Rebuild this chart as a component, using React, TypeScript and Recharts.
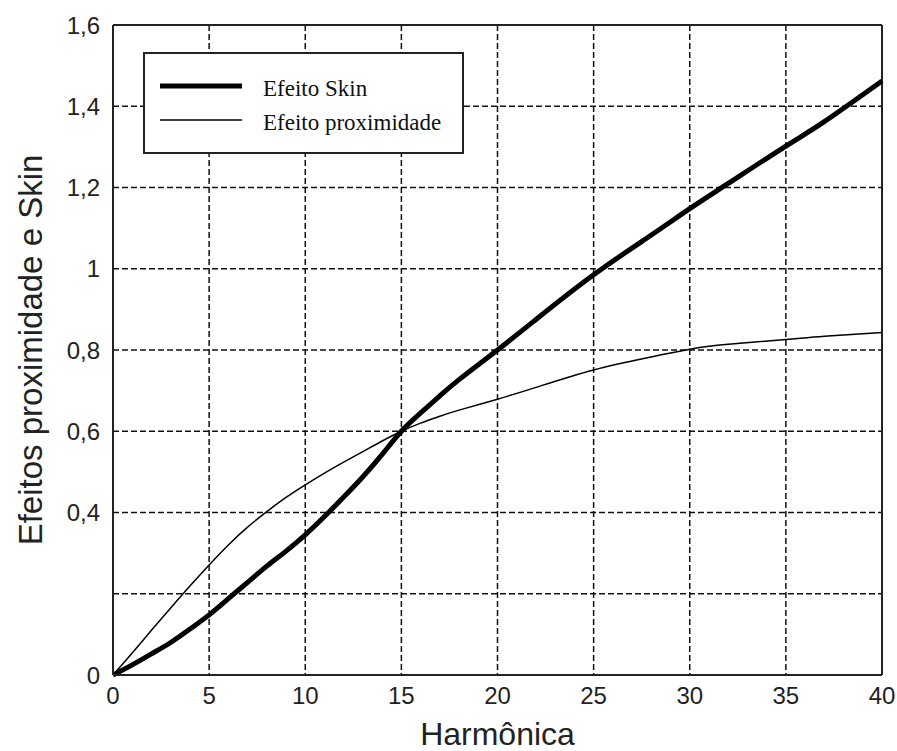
import { CartesianGrid, Legend, Line, LineChart, ReferenceLine, XAxis, YAxis } from "recharts";

document.body.style.margin = "0";

const harmonics = [0, 1, 2, 3, 4, 5, 6, 7, 8, 9, 10, 11, 12, 13, 14, 15, 16, 17, 18, 20, 22, 25, 28, 30, 32, 35, 37, 40];
const skin = [
  0, 0.025, 0.052, 0.08, 0.113, 0.148, 0.188, 0.228, 0.268, 0.305, 0.345, 0.39, 0.438, 0.488, 0.543, 0.6, 0.645, 0.687,
  0.727, 0.8, 0.875, 0.985, 1.083, 1.148, 1.21, 1.302, 1.362, 1.462
];
const proximity = [
  0, 0.054, 0.11, 0.165, 0.219, 0.271, 0.32, 0.364, 0.402, 0.437, 0.468, 0.497, 0.524, 0.55, 0.576, 0.6, 0.62, 0.637,
  0.652, 0.679, 0.708, 0.751, 0.783, 0.802, 0.814, 0.826, 0.834, 0.843
];

const xTicks = [0, 5, 10, 15, 20, 25, 30, 35, 40];
const yTicks = [0, 0.2, 0.4, 0.6, 0.8, 1, 1.2, 1.4, 1.6];
const yTickLabels = ["0", "", "0,4", "0,6", "0,8", "1", "1,2", "1,4", "1,6"];

const data = harmonics.map((h, i) => ({ h, skin: skin[i], prox: proximity[i] }));

const ink = "#111";
const sans = "'Liberation Sans', Arial, sans-serif";
const tickStyle = { fill: "#222", fontSize: 24, fontFamily: sans };

function LegendBox({ payload }: any) {
  const items = payload ?? [];
  return (
    <svg width={321} height={102} style={{ display: "block" }}>
      <rect x={1} y={1} width={319} height={100} fill="#fff" stroke="#222" strokeWidth={2} />
      {items.map((it: any, i: number) => {
        const y = 34 + i * 34;
        return (
          <g key={it.value}>
            <line x1={17} x2={99} y1={y} y2={y} stroke="#000" strokeWidth={i === 0 ? 5 : 1.5} />
            <text x={120} y={y + 10} fontSize={23} fontFamily="'Liberation Serif', 'Times New Roman', serif" fill="#111">
              {it.value}
            </text>
          </g>
        );
      })}
    </svg>
  );
}

export default function App() {
  return (
    <div style={{ width: 897, height: 751, background: "#fff" }}>
      <LineChart width={897} height={751} data={data} margin={{ top: 25, right: 15, bottom: 0, left: 0 }}>
        <CartesianGrid stroke={ink} strokeWidth={1.5} strokeDasharray="6 3" />
        <XAxis
          dataKey="h"
          type="number"
          domain={[0, 40]}
          ticks={xTicks}
          interval={0}
          height={76}
          tickSize={0}
          tickMargin={12}
          tick={tickStyle}
          axisLine={{ stroke: "#222", strokeWidth: 2 }}
          label={{
            value: "Harmônica",
            position: "insideBottom",
            offset: 6,
            fontSize: 32,
            fill: "#222",
            fontFamily: sans
          }}
        />
        <YAxis
          type="number"
          domain={[0, 1.6]}
          ticks={yTicks}
          interval={0}
          width={113}
          tickSize={0}
          tickMargin={13}
          tick={tickStyle}
          tickFormatter={(v: number) => yTickLabels[yTicks.indexOf(v)] ?? ""}
          axisLine={{ stroke: "#222", strokeWidth: 2 }}
          label={{
            value: "Efeitos proximidade e Skin",
            angle: -90,
            position: "insideLeft",
            offset: 30,
            fontSize: 33,
            fill: "#222",
            fontFamily: sans,
            style: { textAnchor: "middle" }
          }}
        />
        <ReferenceLine x={40} stroke="#222" strokeWidth={2} />
        <ReferenceLine y={1.6} stroke="#222" strokeWidth={2} />
        <Legend
          layout="vertical"
          align="center"
          verticalAlign="middle"
          content={<LegendBox />}
          wrapperStyle={{ left: 143, top: 52, width: 321, height: 102 }}
        />
        <Line
          type="natural"
          dataKey="skin"
          name="Efeito Skin"
          stroke="#000"
          strokeWidth={5}
          dot={false}
          isAnimationActive={false}
        />
        <Line
          type="natural"
          dataKey="prox"
          name="Efeito proximidade"
          stroke="#000"
          strokeWidth={1.5}
          dot={false}
          isAnimationActive={false}
        />
      </LineChart>
    </div>
  );
}
